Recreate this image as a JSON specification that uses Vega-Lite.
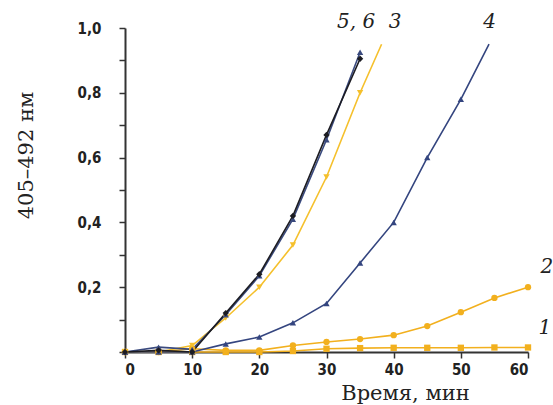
{
  "$schema": "https://vega.github.io/schema/vega-lite/v6.json",
  "width": 403,
  "height": 324,
  "autosize": {"type": "none"},
  "padding": {"left": 125, "top": 28, "right": 25, "bottom": 53},
  "background": "white",
  "config": {
    "view": {"stroke": null},
    "locale": {"number": {"decimal": ",", "thousands": " ", "grouping": [3], "currency": ["", ""]}}
  },
  "datasets": {
    "curves": [
      {"s": "1", "t": 0, "v": 0}, {"s": "1", "t": 5, "v": 0}, {"s": "1", "t": 10, "v": 0}, {"s": "1", "t": 15, "v": 0}, {"s": "1", "t": 20, "v": 0}, {"s": "1", "t": 25, "v": 0.003}, {"s": "1", "t": 30, "v": 0.01}, {"s": "1", "t": 35, "v": 0.012}, {"s": "1", "t": 40, "v": 0.013}, {"s": "1", "t": 45, "v": 0.013}, {"s": "1", "t": 50, "v": 0.013}, {"s": "1", "t": 55, "v": 0.014}, {"s": "1", "t": 60, "v": 0.014},
      {"s": "2", "t": 0, "v": 0}, {"s": "2", "t": 5, "v": 0}, {"s": "2", "t": 10, "v": 0.01}, {"s": "2", "t": 15, "v": 0.005}, {"s": "2", "t": 20, "v": 0.005}, {"s": "2", "t": 25, "v": 0.02}, {"s": "2", "t": 30, "v": 0.031}, {"s": "2", "t": 35, "v": 0.04}, {"s": "2", "t": 40, "v": 0.052}, {"s": "2", "t": 45, "v": 0.08}, {"s": "2", "t": 50, "v": 0.123}, {"s": "2", "t": 55, "v": 0.167}, {"s": "2", "t": 60, "v": 0.2},
      {"s": "3", "t": 0, "v": 0}, {"s": "3", "t": 5, "v": 0}, {"s": "3", "t": 10, "v": 0.02}, {"s": "3", "t": 15, "v": 0.105}, {"s": "3", "t": 20, "v": 0.2}, {"s": "3", "t": 25, "v": 0.33}, {"s": "3", "t": 30, "v": 0.54}, {"s": "3", "t": 35, "v": 0.8}, {"s": "3", "t": 38.2, "v": 0.95},
      {"s": "4", "t": 0, "v": 0}, {"s": "4", "t": 5, "v": 0}, {"s": "4", "t": 10, "v": 0}, {"s": "4", "t": 15, "v": 0.025}, {"s": "4", "t": 20, "v": 0.046}, {"s": "4", "t": 25, "v": 0.09}, {"s": "4", "t": 30, "v": 0.15}, {"s": "4", "t": 35, "v": 0.275}, {"s": "4", "t": 40, "v": 0.4}, {"s": "4", "t": 45, "v": 0.6}, {"s": "4", "t": 50, "v": 0.78}, {"s": "4", "t": 54.2, "v": 0.95},
      {"s": "6", "t": 0, "v": 0}, {"s": "6", "t": 5, "v": 0.015}, {"s": "6", "t": 10, "v": 0.008}, {"s": "6", "t": 15, "v": 0.115}, {"s": "6", "t": 20, "v": 0.235}, {"s": "6", "t": 25, "v": 0.41}, {"s": "6", "t": 30, "v": 0.655}, {"s": "6", "t": 35, "v": 0.925},
      {"s": "5", "t": 0, "v": 0}, {"s": "5", "t": 5, "v": 0.005}, {"s": "5", "t": 10, "v": 0}, {"s": "5", "t": 15, "v": 0.12}, {"s": "5", "t": 20, "v": 0.24}, {"s": "5", "t": 25, "v": 0.42}, {"s": "5", "t": 30, "v": 0.67}, {"s": "5", "t": 35, "v": 0.905}
    ],
    "labels": [
      {"txt": "5, 6", "t": 34.4, "v": 1.0},
      {"txt": "3", "t": 40.2, "v": 1.0},
      {"txt": "4", "t": 54.3, "v": 1.0},
      {"txt": "2", "t": 62.8, "v": 0.245},
      {"txt": "1", "t": 62.5, "v": 0.057}
    ]
  },
  "encoding": {
    "x": {
      "field": "t", "type": "quantitative",
      "scale": {"domain": [0, 60], "nice": false, "zero": true},
      "axis": {
        "values": [0, 10, 20, 30, 40, 50, 60],
        "format": "d",
        "grid": false,
        "domainColor": "#333", "domainWidth": 2,
        "tickColor": "#333", "tickWidth": 1.5, "tickSize": 6,
        "labelFont": "DejaVu Sans Condensed", "labelFontWeight": "bold", "labelFontSize": 15, "labelColor": "#222",
        "labelPadding": 4,
        "title": "Время, мин",
        "titleFont": "DejaVu Serif", "titleFontWeight": "normal", "titleFontSize": 21, "titleColor": "#222",
        "titleX": 280, "titleY": 47, "titleAlign": "center", "titleBaseline": "alphabetic"
      }
    },
    "y": {
      "field": "v", "type": "quantitative",
      "scale": {"domain": [0, 1], "nice": false},
      "axis": {
        "tickCount": 10,
        "format": ".1f",
        "labelExpr": "(datum.value > 0.05 && round(datum.value * 10) % 2 == 0) ? datum.label : ''",
        "grid": false,
        "domainColor": "#333", "domainWidth": 2,
        "tickColor": "#333", "tickWidth": 1.5, "tickSize": 6,
        "labelFont": "DejaVu Sans Condensed", "labelFontWeight": "bold", "labelFontSize": 15, "labelColor": "#222",
        "labelPadding": 18,
        "title": "405–492 нм",
        "titleFont": "DejaVu Serif", "titleFontWeight": "normal", "titleFontSize": 21, "titleColor": "#222",
        "titleAngle": -90, "titleX": -93, "titleY": 127, "titleAlign": "center", "titleBaseline": "alphabetic"
      }
    }
  },
  "layer": [
    {
      "data": {"name": "curves"},
      "mark": {"type": "line", "strokeWidth": 1.6},
      "encoding": {
        "color": {
          "field": "s", "type": "nominal",
          "scale": {"domain": ["1", "2", "3", "4", "5", "6"], "range": ["#f2b01e", "#f2b01e", "#f5c02c", "#34457f", "#1c1c22", "#3a4a7e"]},
          "legend": null
        },
        "detail": {"field": "s"}
      }
    },
    {
      "data": {"name": "curves"},
      "transform": [{"filter": "datum.t % 5 == 0"}],
      "mark": {"type": "point", "filled": true, "size": 40, "opacity": 1},
      "encoding": {
        "color": {
          "field": "s", "type": "nominal",
          "scale": {"domain": ["1", "2", "3", "4", "5", "6"], "range": ["#f2b01e", "#f2b01e", "#f5c02c", "#1f2a66", "#000000", "#1f2a66"]},
          "legend": null
        },
        "shape": {
          "field": "s", "type": "nominal",
          "scale": {"domain": ["1", "2", "3", "4", "5", "6"], "range": ["square", "circle", "triangle-down", "triangle-up", "diamond", "triangle-up"]},
          "legend": null
        }
      }
    },
    {
      "data": {"name": "labels"},
      "mark": {"type": "text", "font": "DejaVu Serif", "fontStyle": "italic", "fontSize": 20, "align": "center", "baseline": "alphabetic", "color": "#222"},
      "encoding": {
        "text": {"field": "txt"}
      }
    }
  ]
}
